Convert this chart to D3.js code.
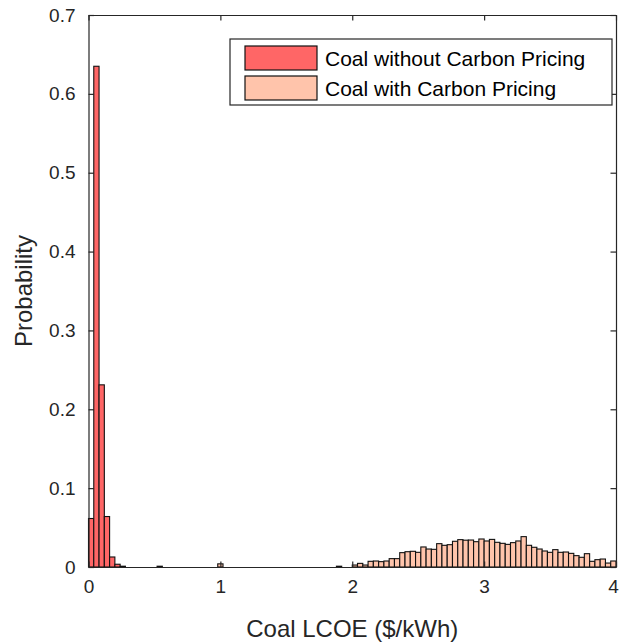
<!DOCTYPE html>
<html>
<head>
<meta charset="utf-8">
<script src="https://cdn.jsdelivr.net/npm/d3@7"></script>
<style>
  html, body { margin: 0; padding: 0; background: #fff; }
  svg { display: block; font-family: "Liberation Sans", Arial, Helvetica, sans-serif; }
</style>
</head>
<body>
<svg id="chart" width="620" height="643"></svg>
<script>
// histogram bins (width in $/kWh) and probabilities
const binWidth = 0.04;

const noCarbonStart = 0;
const noCarbonProb = [0.0615, 0.635, 0.231, 0.064, 0.0127, 0.0035, 0.001];

const carbonStart = 2.0;
const carbonProb = [
  0.0025, 0.0046, 0.0025, 0.0072, 0.0076, 0.0068, 0.0076, 0.0106, 0.0106, 0.0182,
  0.0194, 0.0199, 0.0186, 0.0254, 0.0228, 0.0224, 0.0296, 0.0275, 0.0283, 0.0326,
  0.0347, 0.0340, 0.0342, 0.0321, 0.0355, 0.0330, 0.0350, 0.0313, 0.0300, 0.0287,
  0.0309, 0.0330, 0.0385, 0.0275, 0.0250, 0.0228, 0.0203, 0.0186, 0.0220, 0.0186,
  0.0190, 0.0173, 0.0144, 0.0123, 0.0169, 0.0072, 0.0093, 0.0101, 0.0050, 0.0076
];
// a few stray low-cost draws of the carbon-priced case
const carbonTailX = [0.52, 0.98, 1.88];
const carbonTailProb = [0.001, 0.004, 0.001];

const xTicks = [0, 1, 2, 3, 4];
const yTicks = [0, 0.1, 0.2, 0.3, 0.4, 0.5, 0.6, 0.7];

const seriesNames = ['Coal without Carbon Pricing', 'Coal with Carbon Pricing'];
const seriesColors = ['#ff6666', '#ffc4ab'];

const axisColor = '#262626';
const margin = {top: 15, right: 4, bottom: 76, left: 88.5};
const width = 620, height = 643;

const svg = d3.select('#chart');

const x = d3.scaleLinear().domain([0, 4]).range([margin.left, width - margin.right]);
const y = d3.scaleLinear().domain([0, 0.7]).range([height - margin.bottom, margin.top]);

function toBins(start, probs) {
  return probs.map((p, i) => ({x0: start + i * binWidth, p: p}));
}

const noCarbonBins = toBins(noCarbonStart, noCarbonProb);
const carbonBins = toBins(carbonStart, carbonProb)
  .concat(carbonTailX.map((v, i) => ({x0: v, p: carbonTailProb[i]})));

const plot = svg.append('g');

function drawBars(bins, color) {
  plot.append('g')
    .selectAll('rect')
    .data(bins)
    .join('rect')
      .attr('x', d => x(d.x0))
      .attr('y', d => y(d.p))
      .attr('width', d => x(d.x0 + binWidth) - x(d.x0))
      .attr('height', d => y(0) - y(d.p))
      .attr('fill', color)
      .attr('stroke', '#111')
      .attr('stroke-width', 1.1);
}

drawBars(noCarbonBins, seriesColors[0]);
drawBars(carbonBins, seriesColors[1]);

// axes, MATLAB style: box with inward ticks on all four sides
const tickLen = 5.5;
const axes = svg.append('g');

axes.append('g')
  .attr('transform', `translate(0, ${y(0)})`)
  .call(d3.axisBottom(x).tickValues(xTicks).tickSizeInner(-tickLen).tickSizeOuter(0).tickPadding(13).tickFormat(d3.format('d')));
axes.append('g')
  .attr('transform', `translate(0, ${y(0.7)})`)
  .call(d3.axisTop(x).tickValues(xTicks).tickSizeInner(-tickLen).tickSizeOuter(0).tickFormat(''));
axes.append('g')
  .attr('transform', `translate(${x(0)}, 0)`)
  .call(d3.axisLeft(y).tickValues(yTicks).tickSizeInner(-tickLen).tickSizeOuter(0).tickPadding(13).tickFormat(d => d === 0 ? '0' : d3.format('.1f')(d)));
axes.append('g')
  .attr('transform', `translate(${x(4)}, 0)`)
  .call(d3.axisRight(y).tickValues(yTicks).tickSizeInner(-tickLen).tickSizeOuter(0).tickFormat(''));

axes.selectAll('.domain, .tick line').attr('stroke', axisColor).attr('stroke-width', 1.2);
axes.selectAll('.tick text').attr('fill', axisColor).style('font-size', '19px');
axes.selectAll('g').attr('font-family', null);
// keep the last x label inside the page, as in the original
axes.selectAll('.tick text').filter(d => d === 4).attr('dx', -3);

// axis titles
svg.append('text')
  .attr('x', (x(0) + x(4)) / 2)
  .attr('y', 637)
  .attr('text-anchor', 'middle')
  .attr('fill', axisColor)
  .style('font-size', '24px')
  .text('Coal LCOE ($/kWh)');

svg.append('text')
  .attr('transform', `translate(32, ${(y(0) + y(0.7)) / 2}) rotate(-90)`)
  .attr('text-anchor', 'middle')
  .attr('fill', axisColor)
  .style('font-size', '24px')
  .text('Probability');

// legend
const lg = svg.append('g').attr('transform', 'translate(230, 39)');
lg.append('rect')
  .attr('width', 382).attr('height', 66)
  .attr('fill', '#fff')
  .attr('stroke', axisColor).attr('stroke-width', 1.2);

seriesNames.forEach((name, i) => {
  const row = lg.append('g').attr('transform', `translate(0, ${7 + i * 30})`);
  row.append('rect')
    .attr('x', 15).attr('y', 0)
    .attr('width', 72).attr('height', 24)
    .attr('fill', seriesColors[i])
    .attr('stroke', '#111').attr('stroke-width', 1.2);
  row.append('text')
    .attr('x', 95).attr('y', 20)
    .attr('fill', '#000')
    .style('font-size', '21px')
    .text(name);
});
</script>
</body>
</html>
